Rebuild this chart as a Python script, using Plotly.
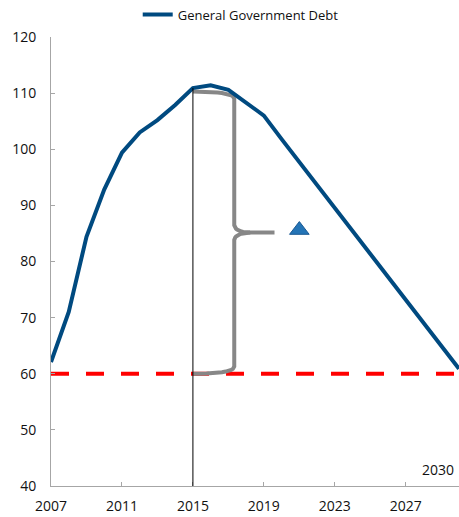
import numpy as np
import plotly.graph_objects as go

years = list(range(2007, 2031))
debt = [62.1, 71.0, 84.4, 92.8, 99.4, 103.0, 105.2, 107.9, 110.9, 111.4, 110.6,
        108.4, 106.0, 101.8, 97.7, 93.6, 89.6, 85.5, 81.4, 77.3, 73.2, 69.1, 65.0, 60.9]
target_years = [2007, 2030]
target_level = [60, 60]
gap_marker_year = [2021]
gap_marker_value = [85.6]
xtick_vals = [2007, 2011, 2015, 2019, 2023, 2027]
ytick_vals = [40, 50, 60, 70, 80, 90, 100, 110, 120]

# brace geometry (data coords)
brace_x0, brace_x1, brace_tip = 2015.0, 2017.33, 2019.6
brace_top, brace_mid, brace_bot = 110.3, 85.15, 60.0


def qbez(p0, p1, p2, n=12):
    t = np.linspace(0, 1, n)[:, None]
    p0, p1, p2 = map(np.array, (p0, p1, p2))
    pts = (1 - t) ** 2 * p0 + 2 * (1 - t) * t * p1 + t ** 2 * p2
    return list(pts[:, 0]), list(pts[:, 1])


bx, by = [], []
for seg in [
    qbez((brace_x0, brace_top), (brace_x1, brace_top), (brace_x1, brace_top - 1.3)),
    ([brace_x1], [brace_mid + 1.3]),
    qbez((brace_x1, brace_mid + 1.3), (brace_x1 + 0.08, brace_mid + 0.05), (brace_x1 + 0.9, brace_mid)),
    ([brace_tip], [brace_mid]),
    ([None], [None]),
    qbez((brace_x1 + 0.9, brace_mid), (brace_x1 + 0.08, brace_mid - 0.05), (brace_x1, brace_mid - 1.3)),
    ([brace_x1], [brace_bot + 1.3]),
    qbez((brace_x1, brace_bot + 1.3), (brace_x1, brace_bot), (brace_x0, brace_bot)),
]:
    bx += list(seg[0])
    by += list(seg[1])

fig = go.Figure()
fig.add_trace(go.Scatter(x=target_years, y=target_level, mode="lines",
                         line=dict(color="#FF0000", width=4, dash="18px,17px"),
                         showlegend=False, hoverinfo="skip"))
fig.add_trace(go.Scatter(x=bx, y=by, mode="lines",
                         line=dict(color="#878787", width=4),
                         showlegend=False, hoverinfo="skip", connectgaps=False))
fig.add_trace(go.Scatter(x=years, y=debt, mode="lines", name="General Government Debt",
                         line=dict(color="#004A80", width=4)))
fig.add_trace(go.Scatter(x=gap_marker_year, y=gap_marker_value, mode="markers",
                         marker=dict(symbol="triangle-up", size=17, color="#2474B6",
                                     line=dict(color="#1B5A94", width=1)),
                         showlegend=False, hoverinfo="skip"))

fig.add_shape(type="line", x0=2015, x1=2015, y0=40, y1=debt[years.index(2015)],
              xref="x", yref="y", line=dict(color="black", width=1), layer="above")

fig.add_annotation(x=2030, y=42.9, xref="x", yref="y", text="2030", showarrow=False,
                   xanchor="right", yanchor="middle", xshift=-3,
                   font=dict(family="Open Sans", size=14, color="#111111"))

axis_common = dict(showline=True, linecolor="#A6A6A6", linewidth=1, showgrid=False,
                   zeroline=False, ticks="inside", ticklen=4, tickcolor="#A6A6A6",
                   automargin=False,
                   tickfont=dict(family="Open Sans", size=14, color="#111111"))

fig.update_xaxes(range=[2007, 2030], tickvals=xtick_vals, ticklabelstandoff=7, **axis_common)
fig.update_yaxes(range=[40, 120], tickvals=ytick_vals, ticklabelstandoff=11, **axis_common)

fig.update_layout(
    width=459, height=517,
    margin=dict(l=51, r=0, t=37, b=31, autoexpand=False),
    plot_bgcolor="white", paper_bgcolor="white",
    showlegend=True,
    hovermode=False,
    legend=dict(orientation="h", x=0.465, xanchor="center", y=1.05, yanchor="middle",
                font=dict(family="Open Sans", size=13, color="#111111"),
                bgcolor="rgba(0,0,0,0)"),
)

fig.write_html("out.html", config={"displayModeBar": False},
               post_script="document.body.style.margin='0';document.body.style.overflow='hidden';")
